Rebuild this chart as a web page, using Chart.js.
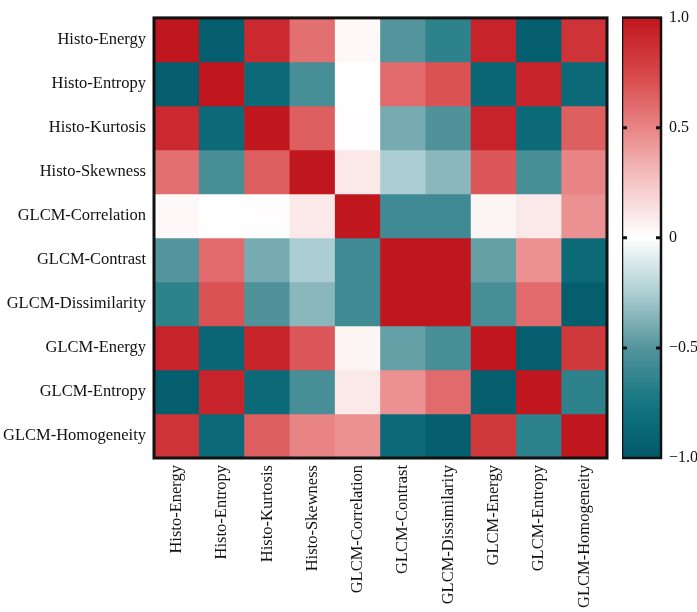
<!DOCTYPE html>
<html>
<head>
<meta charset="utf-8">
<script src="https://cdn.jsdelivr.net/npm/chart.js@4.4.1/dist/chart.umd.min.js"></script>
<style>
  html, body { margin: 0; padding: 0; background: #fff; }
  #wrap { position: relative; width: 697px; height: 612px; }
  #heat { position: absolute; left: 0; top: 0; }
  #bar { position: absolute; left: 622px; top: 0; }
</style>
</head>
<body>
<div id="wrap">
  <canvas id="heat" width="697" height="612"></canvas>
  <canvas id="bar" width="75" height="612"></canvas>
</div>
<script>
// Feature names (rows = columns)
const features = ['Histo-Energy', 'Histo-Entropy', 'Histo-Kurtosis', 'Histo-Skewness', 'GLCM-Correlation',
  'GLCM-Contrast', 'GLCM-Dissimilarity', 'GLCM-Energy', 'GLCM-Entropy', 'GLCM-Homogeneity'];

// Correlation values, one array per row
const rowHistoEnergy      = [1.00, -0.95, 0.90, 0.58, 0.03, -0.50, -0.65, 0.93, -0.95, 0.85];
const rowHistoEntropy     = [-0.95, 1.00, -0.85, -0.55, 0.00, 0.60, 0.70, -0.88, 0.93, -0.85];
const rowHistoKurtosis    = [0.90, -0.85, 1.00, 0.65, 0.01, -0.40, -0.52, 0.93, -0.85, 0.65];
const rowHistoSkewness    = [0.58, -0.55, 0.65, 1.00, 0.10, -0.25, -0.35, 0.68, -0.55, 0.50];
const rowGlcmCorrelation  = [0.03, 0.00, 0.01, 0.10, 1.00, -0.58, -0.58, 0.05, 0.10, 0.45];
const rowGlcmContrast     = [-0.50, 0.60, -0.40, -0.25, -0.58, 1.00, 1.00, -0.45, 0.45, -0.85];
const rowGlcmDissimilarity= [-0.65, 0.70, -0.52, -0.35, -0.58, 1.00, 1.00, -0.55, 0.60, -0.95];
const rowGlcmEnergy       = [0.93, -0.88, 0.93, 0.68, 0.05, -0.45, -0.55, 1.00, -0.95, 0.82];
const rowGlcmEntropy      = [-0.95, 0.93, -0.85, -0.55, 0.10, 0.45, 0.60, -0.95, 1.00, -0.65];
const rowGlcmHomogeneity  = [0.85, -0.85, 0.65, 0.50, 0.45, -0.85, -0.95, 0.82, -0.65, 1.00];

const matrix = [rowHistoEnergy, rowHistoEntropy, rowHistoKurtosis, rowHistoSkewness, rowGlcmCorrelation,
  rowGlcmContrast, rowGlcmDissimilarity, rowGlcmEnergy, rowGlcmEntropy, rowGlcmHomogeneity];

// Colour bar ticks
const barTicks = [-1, -0.5, 0, 0.5, 1];
const barTickLabels = ['\u22121.0', '\u22120.5', '0', '0.5', '1.0'];

// ── colormap: teal → white → red ─────────────────────────────
const cmap = [
  [-1.00, [0, 88, 105]],
  [-0.75, [20, 118, 130]],
  [-0.50, [84, 148, 156]],
  [-0.25, [172, 206, 210]],
  [0.00, [255, 255, 255]],
  [0.25, [246, 198, 198]],
  [0.50, [233, 132, 132]],
  [0.75, [214, 70, 72]],
  [1.00, [192, 22, 30]]
];

function colorFor(v) {
  for (let i = 1; i < cmap.length; i++) {
    if (v <= cmap[i][0]) {
      const [a, ca] = cmap[i - 1], [b, cb] = cmap[i];
      const t = (v - a) / (b - a);
      const c = ca.map((x, k) => Math.round(x + (cb[k] - x) * t));
      return `rgb(${c[0]},${c[1]},${c[2]})`;
    }
  }
  return 'rgb(192,22,30)';
}

const serif = '"Liberation Serif", "DejaVu Serif", serif';

// frame around the plot area (+ inner tick marks for the colour bar)
const framePlugin = {
  id: 'frame',
  afterDraw(chart, args, opts) {
    const { ctx, chartArea: a } = chart;
    ctx.save();
    ctx.strokeStyle = '#111';
    ctx.lineWidth = opts.width || 3;
    ctx.strokeRect(a.left, a.top, a.right - a.left, a.bottom - a.top);
    if (opts.ticks) {
      const y = chart.scales.y;
      ctx.lineWidth = 3;
      opts.ticks.forEach(v => {
        const py = y.getPixelForValue(v);
        ctx.beginPath();
        ctx.moveTo(a.left, py); ctx.lineTo(a.left + 5, py);
        ctx.moveTo(a.right, py); ctx.lineTo(a.right - 5, py);
        ctx.stroke();
      });
    }
    ctx.restore();
  }
};

// ── Heatmap: one floating-bar dataset per row ───────────────
const heatDatasets = matrix.map((row, r) => ({
  label: features[r],
  data: row.map(() => [r, r + 1]),
  backgroundColor: row.map(colorFor),
  borderWidth: 0,
  grouped: false,
  barPercentage: 1,
  categoryPercentage: 1
}));

new Chart(document.getElementById('heat'), {
  type: 'bar',
  data: { labels: features, datasets: heatDatasets },
  options: {
    responsive: false,
    animation: false,
    layout: { padding: { top: 6, right: 90 } },
    plugins: { legend: { display: false }, tooltip: { enabled: false }, frame: { width: 3 } },
    scales: {
      x: {
        grid: { display: false, drawTicks: false },
        border: { display: false },
        afterFit: s => { s.height = 154; },
        ticks: { color: '#111', font: { family: serif, size: 16.5 }, minRotation: 90, maxRotation: 90, padding: 7, autoSkip: false }
      },
      y: {
        min: 0, max: features.length, reverse: true,
        grid: { display: false, drawTicks: false },
        border: { display: false },
        afterFit: s => { s.width = 154; },
        afterBuildTicks: s => { s.ticks = features.map((_, i) => ({ value: i + 0.5 })); },
        ticks: {
          color: '#111', font: { family: serif, size: 16.5 }, padding: 8, autoSkip: false,
          callback: v => features[Math.floor(v)]
        }
      }
    }
  },
  plugins: [framePlugin]
});

// ── Colour bar ──────────────────────────────────────────────
new Chart(document.getElementById('bar'), {
  type: 'bar',
  data: {
    labels: ['r'],
    datasets: [{
      data: [[barTicks[0], barTicks[barTicks.length - 1]]],
      borderWidth: 0,
      barPercentage: 1,
      categoryPercentage: 1,
      backgroundColor: c => {
        const chart = c.chart;
        if (!chart.chartArea) return '#fff';
        const y = chart.scales.y;
        const g = chart.ctx.createLinearGradient(0, y.getPixelForValue(-1), 0, y.getPixelForValue(1));
        cmap.forEach(([v, col]) => g.addColorStop((v + 1) / 2, `rgb(${col[0]},${col[1]},${col[2]})`));
        return g;
      }
    }]
  },
  options: {
    responsive: false,
    animation: false,
    layout: { padding: { top: 6, bottom: 154 } },
    plugins: { legend: { display: false }, tooltip: { enabled: false }, frame: { width: 2.5, ticks: [-0.5, 0, 0.5] } },
    scales: {
      x: { display: false },
      y: {
        position: 'right',
        min: -1, max: 1,
        grid: { display: false, drawTicks: false },
        border: { display: false },
        afterFit: s => { s.width = 36; },
        afterBuildTicks: s => { s.ticks = barTicks.map(v => ({ value: v })); },
        ticks: {
          color: '#111', font: { family: serif, size: 16 }, padding: 8,
          callback: v => barTickLabels[barTicks.indexOf(v)]
        }
      }
    }
  },
  plugins: [framePlugin]
});
</script>
</body>
</html>
